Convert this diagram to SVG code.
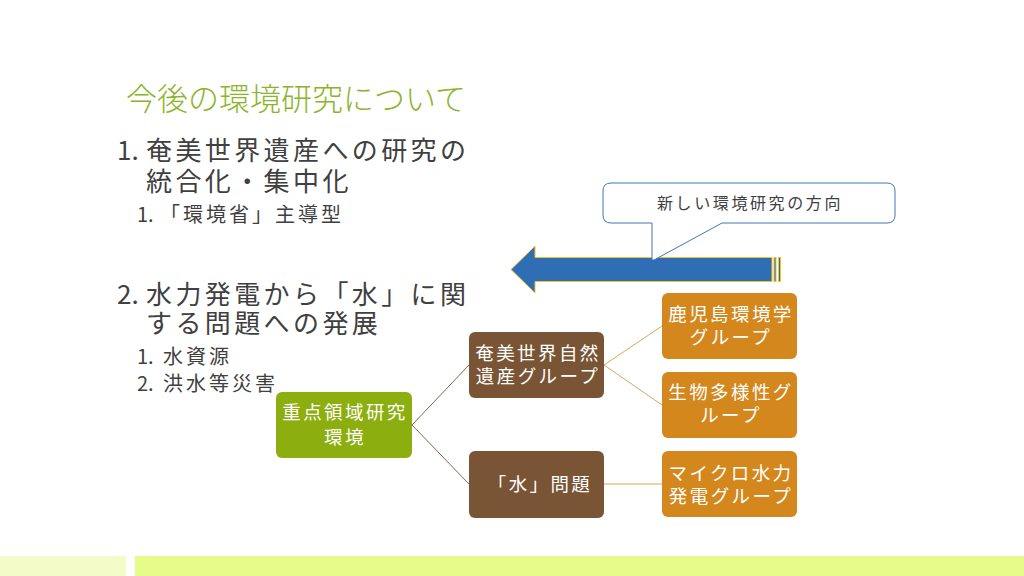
<svg xmlns="http://www.w3.org/2000/svg" width="1024" height="576" viewBox="0 0 1024 576">
<style>
text{font-family:"Noto Sans CJK JP","Noto Sans",sans-serif}
.title{font-size:31px;fill:#8cb42a;font-weight:300}
.l1{font-size:26px;fill:#404040;letter-spacing:3.4px}
.l2{font-size:20px;fill:#404040;letter-spacing:3px}
.nt{font-size:18.5px;fill:#ffffff;letter-spacing:2.4px;text-anchor:middle}
.ct{font-size:16px;fill:#404040;letter-spacing:2.6px;text-anchor:middle}
.green{fill:#8cae0e}
.brown{fill:#7a5535}
.orange{fill:#d4871c}
.c1{stroke:#7d6a55;stroke-width:1;fill:none}
.c2{stroke:#d8a55e;stroke-width:1;fill:none}
</style>
<rect width="1024" height="576" fill="#ffffff"/>
<rect x="0" y="556" width="126" height="20" fill="#f3fcc8"/>
<rect x="135" y="556" width="889" height="20" fill="#e6fb8a"/>

<g id="title"><text class="title" x="126" y="110">今後の環境研究について</text></g>
<g id="body">
<text class="l1" y="160"><tspan x="117" letter-spacing="0">1.</tspan><tspan x="146">奄美世界遺産への研究の</tspan></text>
<text class="l1" x="146" y="191">統合化・集中化</text>
<text class="l2" y="222"><tspan x="137" letter-spacing="0">1.</tspan><tspan x="160">「環境省」主導型</tspan></text>
<text class="l1" y="304"><tspan x="117" letter-spacing="0">2.</tspan><tspan x="146">水力発電から「水」に関</tspan></text>
<text class="l1" x="146" y="333">する問題への発展</text>
<text class="l2" y="364"><tspan x="137" letter-spacing="0">1.</tspan><tspan x="163">水資源</tspan></text>
<text class="l2" y="391"><tspan x="137" letter-spacing="0">2.</tspan><tspan x="163">洪水等災害</tspan></text>
</g>

<g id="arrow" stroke="#f0c429" stroke-width="1" fill="#2f6db4">
<path d="M511,269.5 L535,246 L535,257.5 L772,257.5 L772,281.5 L535,281.5 L535,293 Z"/>
<rect x="774" y="257.5" width="2" height="24"/>
<rect x="778.5" y="257.5" width="2" height="24"/>
</g>

<g id="callout">
<path d="M611,183 L887,183 Q895,183 895,191 L895,215 Q895,223 887,223 L722,223 L654,260 L652,260 L652,223 L611,223 Q603,223 603,215 L603,191 Q603,183 611,183 Z" fill="#ffffff" stroke="#3f77b5" stroke-width="1"/>
<text class="ct" x="750" y="209">新しい環境研究の方向</text>
</g>

<g id="connectors">
<line class="c1" x1="412" y1="425" x2="469" y2="365"/>
<line class="c1" x1="412" y1="425" x2="469" y2="484"/>
<line class="c2" x1="604" y1="365" x2="662" y2="326"/>
<line class="c2" x1="604" y1="365" x2="662" y2="405"/>
<line class="c2" x1="604" y1="484" x2="662" y2="484"/>
</g>

<g id="n-root"><rect class="green" x="276" y="392" width="136" height="66" rx="6"/>
<text class="nt" x="345" y="419">重点領域研究</text><text class="nt" x="345" y="444">環境</text></g>
<g id="n-amami"><rect class="brown" x="469" y="332" width="135" height="66" rx="6"/>
<text class="nt" x="538" y="360">奄美世界自然</text><text class="nt" x="538" y="383">遺産グループ</text></g>
<g id="n-water"><rect class="brown" x="469" y="451" width="135" height="67" rx="6"/>
<text class="nt" x="540" y="491">「水」問題</text></g>
<g id="n-kagoshima"><rect class="orange" x="662" y="293" width="135" height="66" rx="6"/>
<text class="nt" x="731" y="321">鹿児島環境学</text><text class="nt" x="731" y="344">グループ</text></g>
<g id="n-bio"><rect class="orange" x="662" y="372" width="135" height="66" rx="6"/>
<text class="nt" x="731" y="399">生物多様性グ</text><text class="nt" x="731" y="422">ループ</text></g>
<g id="n-micro"><rect class="orange" x="662" y="451" width="135" height="66" rx="6"/>
<text class="nt" x="731" y="480">マイクロ水力</text><text class="nt" x="731" y="503">発電グループ</text></g>
</svg>
